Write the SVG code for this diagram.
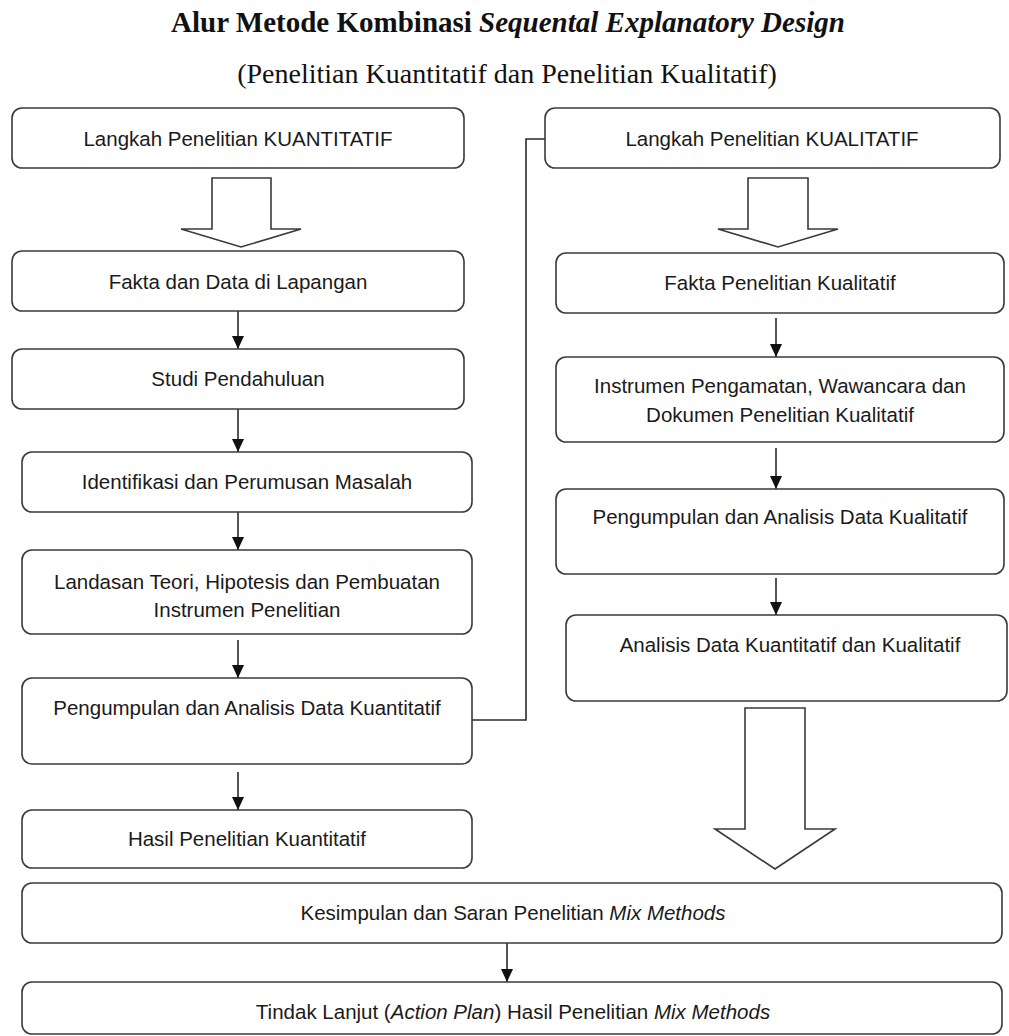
<svg xmlns="http://www.w3.org/2000/svg" width="1009" height="1036" viewBox="0 0 1009 1036">
<defs>
<style>
.box{fill:#fff;stroke:#3a3a3a;stroke-width:1.6}
.t{font-family:"Liberation Sans",Arial,sans-serif;font-size:20.5px;fill:#1a1a1a;text-anchor:middle}
.blk{fill:#fff;stroke:#3a3a3a;stroke-width:1.6;stroke-linejoin:miter}
.con{fill:none;stroke:#2a2a2a;stroke-width:1.6}
.ttl{font-family:"Liberation Serif","Times New Roman",serif;fill:#111;text-anchor:middle}
</style>
<marker id="ah" markerUnits="userSpaceOnUse" markerWidth="14" markerHeight="14" viewBox="0 0 14 14" refX="7" refY="13" orient="auto-start-reverse">
<path d="M1,0 L13,0 L7,13 Z" fill="#111" transform="rotate(-90 7 7)"/>
</marker>
<marker id="ad" markerUnits="userSpaceOnUse" markerWidth="14" markerHeight="14" viewBox="0 0 14 14" refX="13" refY="7" orient="auto">
<path d="M0,1 L13,7 L0,13 Z" fill="#111"/>
</marker>
</defs>
<rect width="1009" height="1036" fill="#fff"/>

<g id="title">
<text class="ttl" x="508" y="32" font-size="29" font-weight="bold">Alur Metode Kombinasi <tspan font-style="italic">Sequental Explanatory Design</tspan></text>
<text class="ttl" x="507" y="83" font-size="28">(Penelitian Kuantitatif dan Penelitian Kualitatif)</text>
</g>

<g id="connectors">
<line class="con" x1="238" y1="311" x2="238" y2="349" marker-end="url(#ad)"/>
<line class="con" x1="238" y1="409" x2="238" y2="452" marker-end="url(#ad)"/>
<line class="con" x1="238" y1="512" x2="238" y2="550" marker-end="url(#ad)"/>
<line class="con" x1="238" y1="640" x2="238" y2="678" marker-end="url(#ad)"/>
<line class="con" x1="238" y1="772" x2="238" y2="810" marker-end="url(#ad)"/>
<line class="con" x1="776" y1="318" x2="776" y2="357" marker-end="url(#ad)"/>
<line class="con" x1="776" y1="448" x2="776" y2="489" marker-end="url(#ad)"/>
<line class="con" x1="776" y1="578" x2="776" y2="615" marker-end="url(#ad)"/>
<line class="con" x1="507" y1="943" x2="507" y2="982" marker-end="url(#ad)"/>
<polyline class="con" points="472,720 526,720 526,139 545,139"/>
<polygon class="blk" points="212,178 271,178 271,229 301,229 241,247 181,229 212,229"/>
<polygon class="blk" points="748,178 808,178 808,229 838,229 778,247 718,229 748,229"/>
<polygon class="blk" points="745,708 805,708 805,829 835,829 775,869 715,829 745,829"/>
</g>

<g id="n-l1"><rect class="box" x="12" y="108" width="452" height="60" rx="10"/><text class="t" x="238" y="146">Langkah Penelitian KUANTITATIF</text></g>
<g id="n-l2"><rect class="box" x="12" y="251" width="452" height="60" rx="10"/><text class="t" x="238" y="289">Fakta dan Data di Lapangan</text></g>
<g id="n-l3"><rect class="box" x="12" y="349" width="452" height="60" rx="10"/><text class="t" x="238" y="386">Studi Pendahuluan</text></g>
<g id="n-l4"><rect class="box" x="22" y="452" width="450" height="60" rx="10"/><text class="t" x="247" y="489">Identifikasi dan Perumusan Masalah</text></g>
<g id="n-l5"><rect class="box" x="22" y="550" width="450" height="84" rx="10"/><text class="t" x="247" y="589">Landasan Teori, Hipotesis dan Pembuatan</text><text class="t" x="247" y="617">Instrumen Penelitian</text></g>
<g id="n-l6"><rect class="box" x="22" y="678" width="450" height="86" rx="10"/><text class="t" x="247" y="715">Pengumpulan dan Analisis Data Kuantitatif</text></g>
<g id="n-l7"><rect class="box" x="22" y="810" width="450" height="58" rx="10"/><text class="t" x="247" y="846">Hasil Penelitian Kuantitatif</text></g>

<g id="n-r1"><rect class="box" x="545" y="108" width="455" height="60" rx="10"/><text class="t" x="772" y="146">Langkah Penelitian KUALITATIF</text></g>
<g id="n-r2"><rect class="box" x="556" y="253" width="448" height="60" rx="10"/><text class="t" x="780" y="290">Fakta Penelitian Kualitatif</text></g>
<g id="n-r3"><rect class="box" x="556" y="357" width="448" height="85" rx="10"/><text class="t" x="780" y="393">Instrumen Pengamatan, Wawancara dan</text><text class="t" x="780" y="422">Dokumen Penelitian Kualitatif</text></g>
<g id="n-r4"><rect class="box" x="556" y="489" width="448" height="85" rx="10"/><text class="t" x="780" y="524">Pengumpulan dan Analisis Data Kualitatif</text></g>
<g id="n-r5"><rect class="box" x="566" y="615" width="441" height="86" rx="10"/><text class="t" x="790" y="652">Analisis Data Kuantitatif dan Kualitatif</text></g>

<g id="n-b1"><rect class="box" x="22" y="883" width="980" height="60" rx="10"/><text class="t" x="513" y="920">Kesimpulan dan Saran Penelitian <tspan font-style="italic">Mix Methods</tspan></text></g>
<g id="n-b2"><rect class="box" x="22" y="982" width="980" height="52" rx="10"/><text class="t" x="513" y="1019">Tindak Lanjut (<tspan font-style="italic">Action Plan</tspan>) Hasil Penelitian <tspan font-style="italic">Mix Methods</tspan></text></g>
</svg>
